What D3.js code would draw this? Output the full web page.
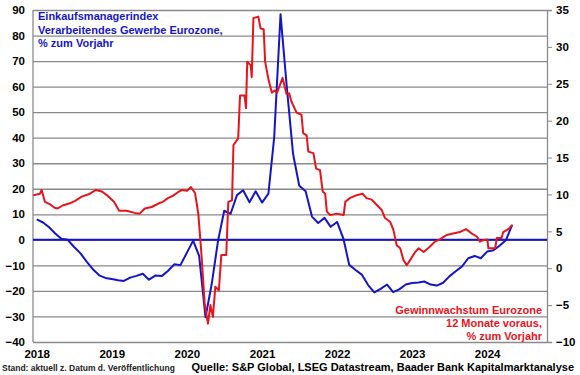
<!DOCTYPE html>
<html>
<head>
<meta charset="utf-8">
<script src="https://cdnjs.cloudflare.com/ajax/libs/d3/7.8.5/d3.min.js"></script>
<style>
body { margin: 0; background: #fff; }
text { font-family: "Liberation Sans", Arial, sans-serif; }
</style>
</head>
<body>
<div id="chart_wrapper"></div>
<script>
var width = 580,
    height = 375,
    margin = {left: 33, right: 33, top: 10, bottom: 33};

// PMI manufacturing Eurozone, % yoy, monthly from Jan 2018 (left axis)
var pmiStart = new Date(2018, 0, 1);
var pmiValues = [
    8.0, 6.8, 5.0, 2.5, 0.4, 0.0, -2.7, -5.2, -8.5, -11.5, -13.9, -14.9,
    -15.3, -15.8, -16.1, -14.8, -14.1, -13.3, -15.6, -14.0, -14.2, -12.2, -9.6, -9.9,
    -5.1, -0.3, -6.3, -30.3, -17.4, -0.4, 11.4, 10.2, 17.5, 19.4, 14.7, 19.0,
    14.6, 18.1, 40.0, 88.3, 60.2, 33.6, 21.2, 19.0, 9.1, 6.6, 8.6, 5.1,
    7.0, 0.4, -9.8, -11.8, -13.6, -17.7, -20.6, -19.2, -17.5, -20.5, -19.3, -17.5,
    -16.9, -16.7, -16.3, -17.5, -17.9, -16.8, -14.3, -12.3, -10.4, -7.2, -6.3, -7.2,
    -4.6, -4.1, -2.3, -0.2, 5.8
];

// earnings growth Eurozone 12m forward, % yoy (right axis)
var earningsData = [
    ["2017-12-15", 9.9], ["2018-01-01", 10.0], ["2018-01-17", 10.1], ["2018-01-25", 10.6],
    ["2018-02-10", 9.0], ["2018-03-05", 8.7], ["2018-03-29", 8.2], ["2018-04-13", 8.1],
    ["2018-05-07", 8.5], ["2018-06-11", 8.8], ["2018-07-05", 9.1], ["2018-08-08", 9.7],
    ["2018-09-17", 10.1], ["2018-10-15", 10.6], ["2018-11-14", 10.4], ["2018-12-13", 9.8],
    ["2019-01-12", 9.0], ["2019-02-06", 7.8], ["2019-03-14", 7.8], ["2019-04-23", 7.5],
    ["2019-05-17", 7.4], ["2019-06-11", 8.1], ["2019-07-14", 8.3], ["2019-08-18", 8.8],
    ["2019-09-07", 9.0], ["2019-10-01", 9.5], ["2019-10-25", 9.8], ["2019-11-19", 10.3],
    ["2019-12-08", 10.6], ["2020-01-02", 10.5], ["2020-01-21", 11.0], ["2020-02-10", 10.2],
    ["2020-02-26", 7.4], ["2020-03-12", 2.0], ["2020-03-28", -4.8], ["2020-04-13", -7.5],
    ["2020-04-25", -5.0], ["2020-05-07", -6.6], ["2020-05-19", -2.5], ["2020-06-05", -3.0],
    ["2020-06-17", 1.8], ["2020-07-11", 1.8], ["2020-07-21", 9.0], ["2020-08-08", 9.2],
    ["2020-08-15", 16.7], ["2020-09-07", 17.6], ["2020-09-16", 23.4], ["2020-10-08", 23.4],
    ["2020-10-15", 21.7], ["2020-10-21", 28.0], ["2020-11-07", 27.5], ["2020-11-12", 25.9],
    ["2020-11-20", 33.9], ["2020-12-14", 34.1], ["2020-12-25", 32.5], ["2021-01-09", 32.4],
    ["2021-01-16", 28.0], ["2021-02-02", 25.5], ["2021-02-18", 23.8], ["2021-03-04", 24.1],
    ["2021-03-15", 23.8], ["2021-04-11", 25.8], ["2021-04-30", 23.6], ["2021-05-13", 23.7],
    ["2021-05-24", 22.6], ["2021-06-18", 21.1], ["2021-07-12", 20.8], ["2021-07-20", 18.3],
    ["2021-08-06", 18.0], ["2021-08-14", 15.8], ["2021-09-08", 15.6], ["2021-09-21", 13.5],
    ["2021-10-10", 13.3], ["2021-10-23", 10.4], ["2021-11-04", 10.1], ["2021-11-12", 7.7],
    ["2021-11-28", 7.2], ["2021-12-30", 7.4], ["2022-02-02", 7.2], ["2022-02-10", 9.0],
    ["2022-03-04", 9.5], ["2022-04-06", 9.9], ["2022-05-05", 10.1], ["2022-05-24", 9.5],
    ["2022-06-18", 9.3], ["2022-07-12", 8.6], ["2022-08-06", 7.9], ["2022-08-22", 6.8],
    ["2022-09-16", 6.3], ["2022-10-02", 5.2], ["2022-10-18", 3.1], ["2022-11-04", 2.7],
    ["2022-11-20", 1.1], ["2022-12-06", 0.4], ["2022-12-22", 1.1], ["2023-01-16", 2.2],
    ["2023-02-02", 2.7], ["2023-02-26", 2.2], ["2023-03-28", 2.9], ["2023-04-22", 3.6],
    ["2023-05-16", 3.9], ["2023-06-18", 4.5], ["2023-07-19", 4.7], ["2023-08-21", 4.9],
    ["2023-09-20", 5.3], ["2023-10-18", 4.7], ["2023-11-12", 4.3], ["2023-11-27", 3.6],
    ["2023-12-13", 3.8], ["2024-01-02", 3.9], ["2024-01-07", 2.7], ["2024-02-09", 2.7],
    ["2024-02-17", 4.1], ["2024-03-11", 4.1], ["2024-03-19", 4.9], ["2024-04-13", 5.3],
    ["2024-05-04", 5.9]
];

var leftTicks = [-40, -30, -20, -10, 0, 10, 20, 30, 40, 50, 60, 70, 80, 90];
var rightTicks = [-10, -5, 0, 5, 10, 15, 20, 25, 30, 35];
var years = [2018, 2019, 2020, 2021, 2022, 2023, 2024];

var pmiTitle = ["Einkaufsmanagerindex", "Verarbeitendes Gewerbe Eurozone,", "% zum Vorjahr"];
var earningsTitle = ["Gewinnwachstum Eurozone", "12 Monate voraus,", "% zum Vorjahr"];
var footLeft = "Stand: aktuell z. Datum d. Veröffentlichung";
var footRight = "Quelle: S&P Global, LSEG Datastream, Baader Bank Kapitalmarktanalyse";

var blue = "#1515c8", red = "#e8141c";

var w = width - margin.left - margin.right,
    h = height - margin.top - margin.bottom;

var parseDate = d3.timeParse("%Y-%m-%d");

var pmi = pmiValues.map(function(v, i) {
    return {date: d3.timeMonth.offset(pmiStart, i), value: v};
});
var earnings = earningsData.map(function(d) {
    return {date: parseDate(d[0]), value: d[1]};
});

var x = d3.scaleTime().domain([new Date(2017, 11, 14), new Date(2024, 9, 18)]).range([0, w]);
var yL = d3.scaleLinear().domain([-40, 90]).range([h, 0]);
var yR = d3.scaleLinear().domain([-10, 35]).range([h, 0]);

var svg = d3.select("#chart_wrapper").append("svg")
    .attr("width", width).attr("height", height)
    .append("g")
    .attr("transform", "translate(" + margin.left + "," + margin.top + ")");

// grid + left axis
var gL = svg.append("g")
    .call(d3.axisLeft(yL).tickValues(leftTicks).tickSize(-w).tickPadding(8));
gL.select(".domain").remove();
gL.selectAll(".tick line").attr("stroke", "#8a8a8a").attr("stroke-width", 1.3);
gL.selectAll(".tick text").attr("fill", "#000").style("font-size", "11.5px").style("font-weight", "bold");

svg.append("line").attr("x1", 0).attr("x2", 0).attr("y1", 0).attr("y2", h)
    .attr("stroke", "#8a8a8a").attr("stroke-width", 1.3);

// right axis
var gR = svg.append("g")
    .attr("transform", "translate(" + w + ",0)")
    .call(d3.axisRight(yR).tickValues(rightTicks).tickSize(5).tickPadding(4));
gR.select(".domain").attr("stroke", "#8a8a8a").attr("stroke-width", 1.3);
gR.selectAll(".tick line").attr("stroke", "#8a8a8a");
gR.selectAll(".tick text").attr("fill", "#000").style("font-size", "11.5px").style("font-weight", "bold");

// x axis year labels
var gX = svg.append("g")
    .attr("transform", "translate(0," + h + ")")
    .call(d3.axisBottom(x).tickValues(years.map(function(y) { return new Date(y, 0, 1); }))
        .tickFormat(d3.timeFormat("%Y")).tickSize(0).tickPadding(8));
gX.select(".domain").remove();
gX.selectAll(".tick text").attr("fill", "#000").style("font-size", "11.5px").style("font-weight", "bold");

// zero line
svg.append("line").attr("x1", 0).attr("x2", w).attr("y1", yL(0)).attr("y2", yL(0))
    .attr("stroke", blue).attr("stroke-width", 2);

var pmiLine = d3.line()
    .x(function(d) { return x(d.date); })
    .y(function(d) { return yL(d.value); });

var earningsLine = d3.line()
    .x(function(d) { return x(d.date); })
    .y(function(d) { return yR(d.value); });

svg.append("path").attr("d", pmiLine(pmi))
    .attr("fill", "none").attr("stroke", blue).attr("stroke-width", 2).attr("stroke-linejoin", "round");
svg.append("path").attr("d", earningsLine(earnings))
    .attr("fill", "none").attr("stroke", red).attr("stroke-width", 2).attr("stroke-linejoin", "round");

// titles
svg.append("g").selectAll("text").data(pmiTitle).enter().append("text")
    .attr("x", 5).attr("y", function(d, i) { return 10 + i * 13.5; })
    .attr("fill", blue).style("font-size", "11px").style("font-weight", "bold")
    .text(function(d) { return d; });

svg.append("g").selectAll("text").data(earningsTitle).enter().append("text")
    .attr("x", w - 5).attr("y", function(d, i) { return 304 + i * 13; })
    .attr("text-anchor", "end")
    .attr("fill", red).style("font-size", "11px").style("font-weight", "bold")
    .text(function(d) { return d; });

// footer
var root = d3.select("svg");
root.append("text").attr("x", 2).attr("y", 371)
    .style("font-size", "8.5px").style("font-weight", "bold").attr("fill", "#222")
    .text(footLeft);
root.append("text").attr("x", 574).attr("y", 371).attr("text-anchor", "end")
    .style("font-size", "11px").style("font-weight", "bold").attr("fill", "#000")
    .text(footRight);
</script>
</body>
</html>
